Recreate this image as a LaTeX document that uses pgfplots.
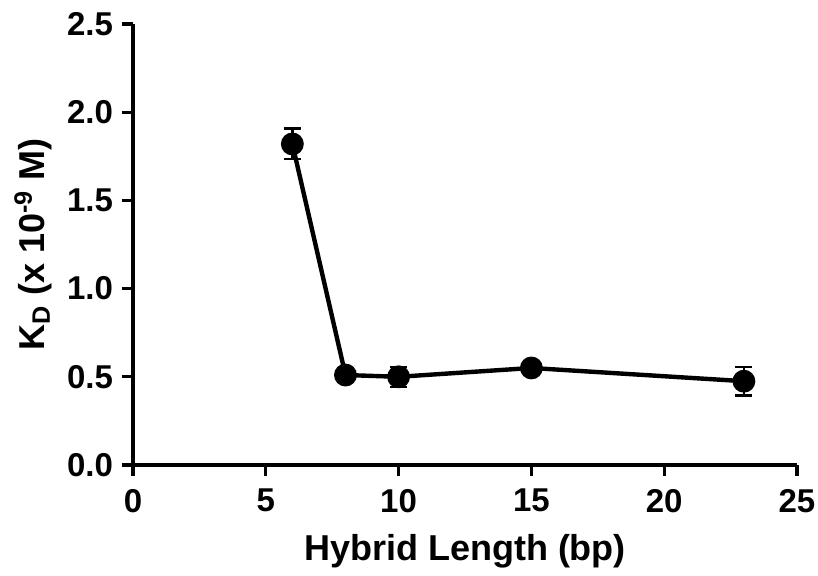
\documentclass[border=0pt]{standalone}
\usepackage{fontspec}
\setmainfont{Liberation Sans}
\usepackage{pgfplots}
\pgfplotsset{compat=1.18}

\begin{document}
\begin{tikzpicture}
% frame the page like the 818x576 reference (1px = 0.5pt)
\useasboundingbox (-66.5pt,-55.5pt) rectangle (342.5pt,232.5pt);
\begin{axis}[
  scale only axis,
  width=332pt, height=220.5pt,
  xmin=0, xmax=25, ymin=0, ymax=2.5,
  xtick={0,5,...,25},
  ytick={0,0.5,...,2.5},
  axis x line*=bottom, axis y line*=left,
  axis line style={line width=1.6pt, -},
  tick style={line width=1.6pt, black},
  tick align=outside,
  major tick length=5.5pt,
  /pgf/number format/assume math mode=true,
  yticklabel={\pgfmathprintnumber[fixed, fixed zerofill, precision=1]{\tick}},
  ticklabel style={font=\fontsize{16.5}{18}\selectfont\bfseries},
  xticklabel style={yshift=-3pt},
  yticklabel style={xshift=-1pt},
  every axis x label/.style={at={(axis description cs:0.5,0)}, yshift=-43pt, anchor=center},
  every axis y label/.style={at={(axis description cs:0,0.5)}, xshift=-50pt, rotate=90, anchor=center},
  label style={font=\fontsize{18}{20}\selectfont\bfseries},
  xlabel={Hybrid Length (bp)},
  ylabel={K\textsubscript{D} (x 10\textsuperscript{-9} M)},
  clip=false,
]
\addplot[
  black, line width=2.2pt,
  mark=*, mark size=4.6pt, mark options={solid, fill=black},
  error bars/.cd, y dir=both, y explicit,
  error bar style={line width=1.2pt, black},
  error mark options={rotate=90, mark size=4.3pt, line width=1.2pt, black},
] table[x=x, y=y, y error=e] {
x  y     e
6  1.82  0.087
8  0.51  0.02
10 0.50  0.057
15 0.55  0.02
23 0.475 0.08
};
\end{axis}
\end{tikzpicture}
\end{document}
